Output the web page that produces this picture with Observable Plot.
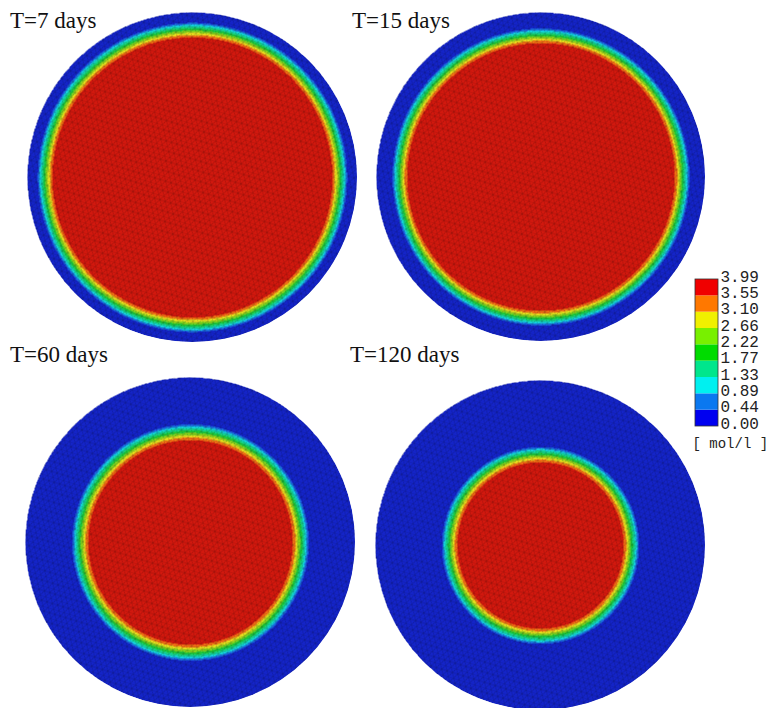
<!DOCTYPE html>
<html>
<head>
<meta charset="utf-8">
<script src="https://cdn.jsdelivr.net/npm/d3@7"></script>
<script src="https://cdn.jsdelivr.net/npm/@observablehq/plot@0.6"></script>
<style>
  html, body { margin: 0; padding: 0; background: #fff; }
  #root { position: relative; width: 774px; height: 708px; overflow: hidden; background: #fff; }
  .panel { position: absolute; }
  .panel svg { clip-path: circle(50% at 50% 50%); display: block; }
  .title { position: absolute; font-family: "Liberation Serif", "Times New Roman", serif; font-size: 23px; color: #111; line-height: 1; white-space: nowrap; }
  .legend { position: absolute; }
</style>
</head>
<body>
<div id="root"></div>
<script>
// ---- data ----
const times = [7, 15, 60, 120];                       // days
const frontInner = [0.835, 0.80, 0.605, 0.49];         // normalized radius: concentration still at maximum inside
const frontOuter = [0.945, 0.91, 0.725, 0.605];        // normalized radius: concentration reaches 0 outside
const maxConc = 3.99;                                  // mol/l
const levels = [0.00, 0.44, 0.89, 1.33, 1.77, 2.22, 2.66, 3.10, 3.55, 3.99];
const levelLabels = ["0.00", "0.44", "0.89", "1.33", "1.77", "2.22", "2.66", "3.10", "3.55", "3.99"];
const legendColors = ["#0000f0", "#0a78f0", "#00f0f0", "#00e68c", "#00dc00", "#78f000", "#f0f000", "#ff7800", "#f00000"];
const mapColors = ["#1424c8", "#1a6ee0", "#14d2dc", "#14d28c", "#1ec83c", "#82d21e", "#e6dc1e", "#f06e14", "#d2180e"];
const unit = "[ mol/l ]";

// ---- layout ----
const panelBoxes = [
  {left: 27, top: 12, size: 330},
  {left: 376, top: 12, size: 329},
  {left: 25, top: 377, size: 330},
  {left: 375, top: 380, size: 330}
];
const titlePos = [
  {left: 10, top: 9}, {left: 352, top: 9}, {left: 10, top: 343}, {left: 350, top: 343}
];

const root = document.getElementById("root");

function concentration(k) {
  const a = frontInner[k], b = frontOuter[k];
  return (x, y) => {
    const r = Math.hypot(x, y);
    if (r > 1) return NaN;
    if (r <= a) return maxConc;
    if (r >= b) return 0;
    const t = (b - r) / (b - a);
    return maxConc * Math.pow(t, 0.85);
  };
}

function addMesh(svg, size, id) {
  const ns = "http://www.w3.org/2000/svg";
  const defs = document.createElementNS(ns, "defs");
  const pat = document.createElementNS(ns, "pattern");
  const w = 5.6, h = 4.85;
  pat.setAttribute("id", id);
  pat.setAttribute("patternUnits", "userSpaceOnUse");
  pat.setAttribute("width", w);
  pat.setAttribute("height", 2 * h);
  pat.setAttribute("patternTransform", "rotate(17)");
  const path = document.createElementNS(ns, "path");
  path.setAttribute("d",
    `M0,0 L${w},0 M0,${h} L${w},${h} ` +
    `M0,0 L${w/2},${h} L${w},0 M0,${2*h} L${w/2},${h} L${w},${2*h}`);
  path.setAttribute("stroke", "#000");
  path.setAttribute("stroke-opacity", "0.24");
  path.setAttribute("stroke-width", "0.6");
  path.setAttribute("fill", "none");
  pat.appendChild(path);
  defs.appendChild(pat);
  svg.insertBefore(defs, svg.firstChild);
  const rect = document.createElementNS(ns, "rect");
  rect.setAttribute("x", 0); rect.setAttribute("y", 0);
  rect.setAttribute("width", size); rect.setAttribute("height", size);
  rect.setAttribute("fill", `url(#${id})`);
  svg.appendChild(rect);
}

times.forEach((t, k) => {
  const box = panelBoxes[k];
  const plot = Plot.plot({
    width: box.size,
    height: box.size,
    margin: 0,
    style: {background: "transparent"},
    x: {domain: [-1, 1], axis: null},
    y: {domain: [-1, 1], axis: null},
    color: {type: "threshold", domain: levels.slice(1, levels.length - 1), range: mapColors},
    marks: [
      Plot.raster({
        x1: -1, x2: 1, y1: -1, y2: 1,
        fill: concentration(k),
        pixelSize: 1,
        imageRendering: "auto"
      })
    ]
  });
  addMesh(plot, box.size, "mesh" + k);
  const div = document.createElement("div");
  div.className = "panel";
  div.style.left = box.left + "px";
  div.style.top = box.top + "px";
  div.appendChild(plot);
  root.appendChild(div);

  const title = document.createElement("div");
  title.className = "title";
  title.textContent = `T=${t} days`;
  title.style.left = titlePos[k].left + "px";
  title.style.top = titlePos[k].top + "px";
  root.appendChild(title);
});

// ---- legend ----
const bands = legendColors.map((c, i) => ({i, lo: levels[i], hi: levels[i + 1]}));
const ticks = levelLabels.map((label, i) => ({i, label}));
const legend = Plot.plot({
  width: 84,
  height: 190,
  margin: 0,
  style: {background: "transparent", overflow: "visible"},
  x: {domain: [0, 1], range: [5, 28], axis: null},
  y: {domain: [0, 9], range: [161, 14], axis: null},
  color: {type: "ordinal", domain: d3.range(9), range: legendColors},
  marks: [
    Plot.rect(bands, {x1: 0, x2: 1, y1: "i", y2: d => d.i + 1, fill: "i"}),
    Plot.rect([0], {x1: 0, x2: 1, y1: 0, y2: 9, fill: "none", stroke: "#333", strokeWidth: 0.8}),
    Plot.text(ticks, {x: 1, y: "i", text: "label", textAnchor: "start", dx: 2, dy: -3,
      fontFamily: "Liberation Mono, DejaVu Sans Mono, monospace", fontSize: 16, fill: "#222"}),
    Plot.text([unit], {x: 0, y: 0, text: d => d, textAnchor: "start", dx: -3, dy: 17,
      fontFamily: "Liberation Mono, DejaVu Sans Mono, monospace", fontSize: 14, fill: "#222"})
  ]
});
const lg = document.createElement("div");
lg.className = "legend";
lg.style.left = "690px";
lg.style.top = "265px";
lg.appendChild(legend);
root.appendChild(lg);
</script>
</body>
</html>
